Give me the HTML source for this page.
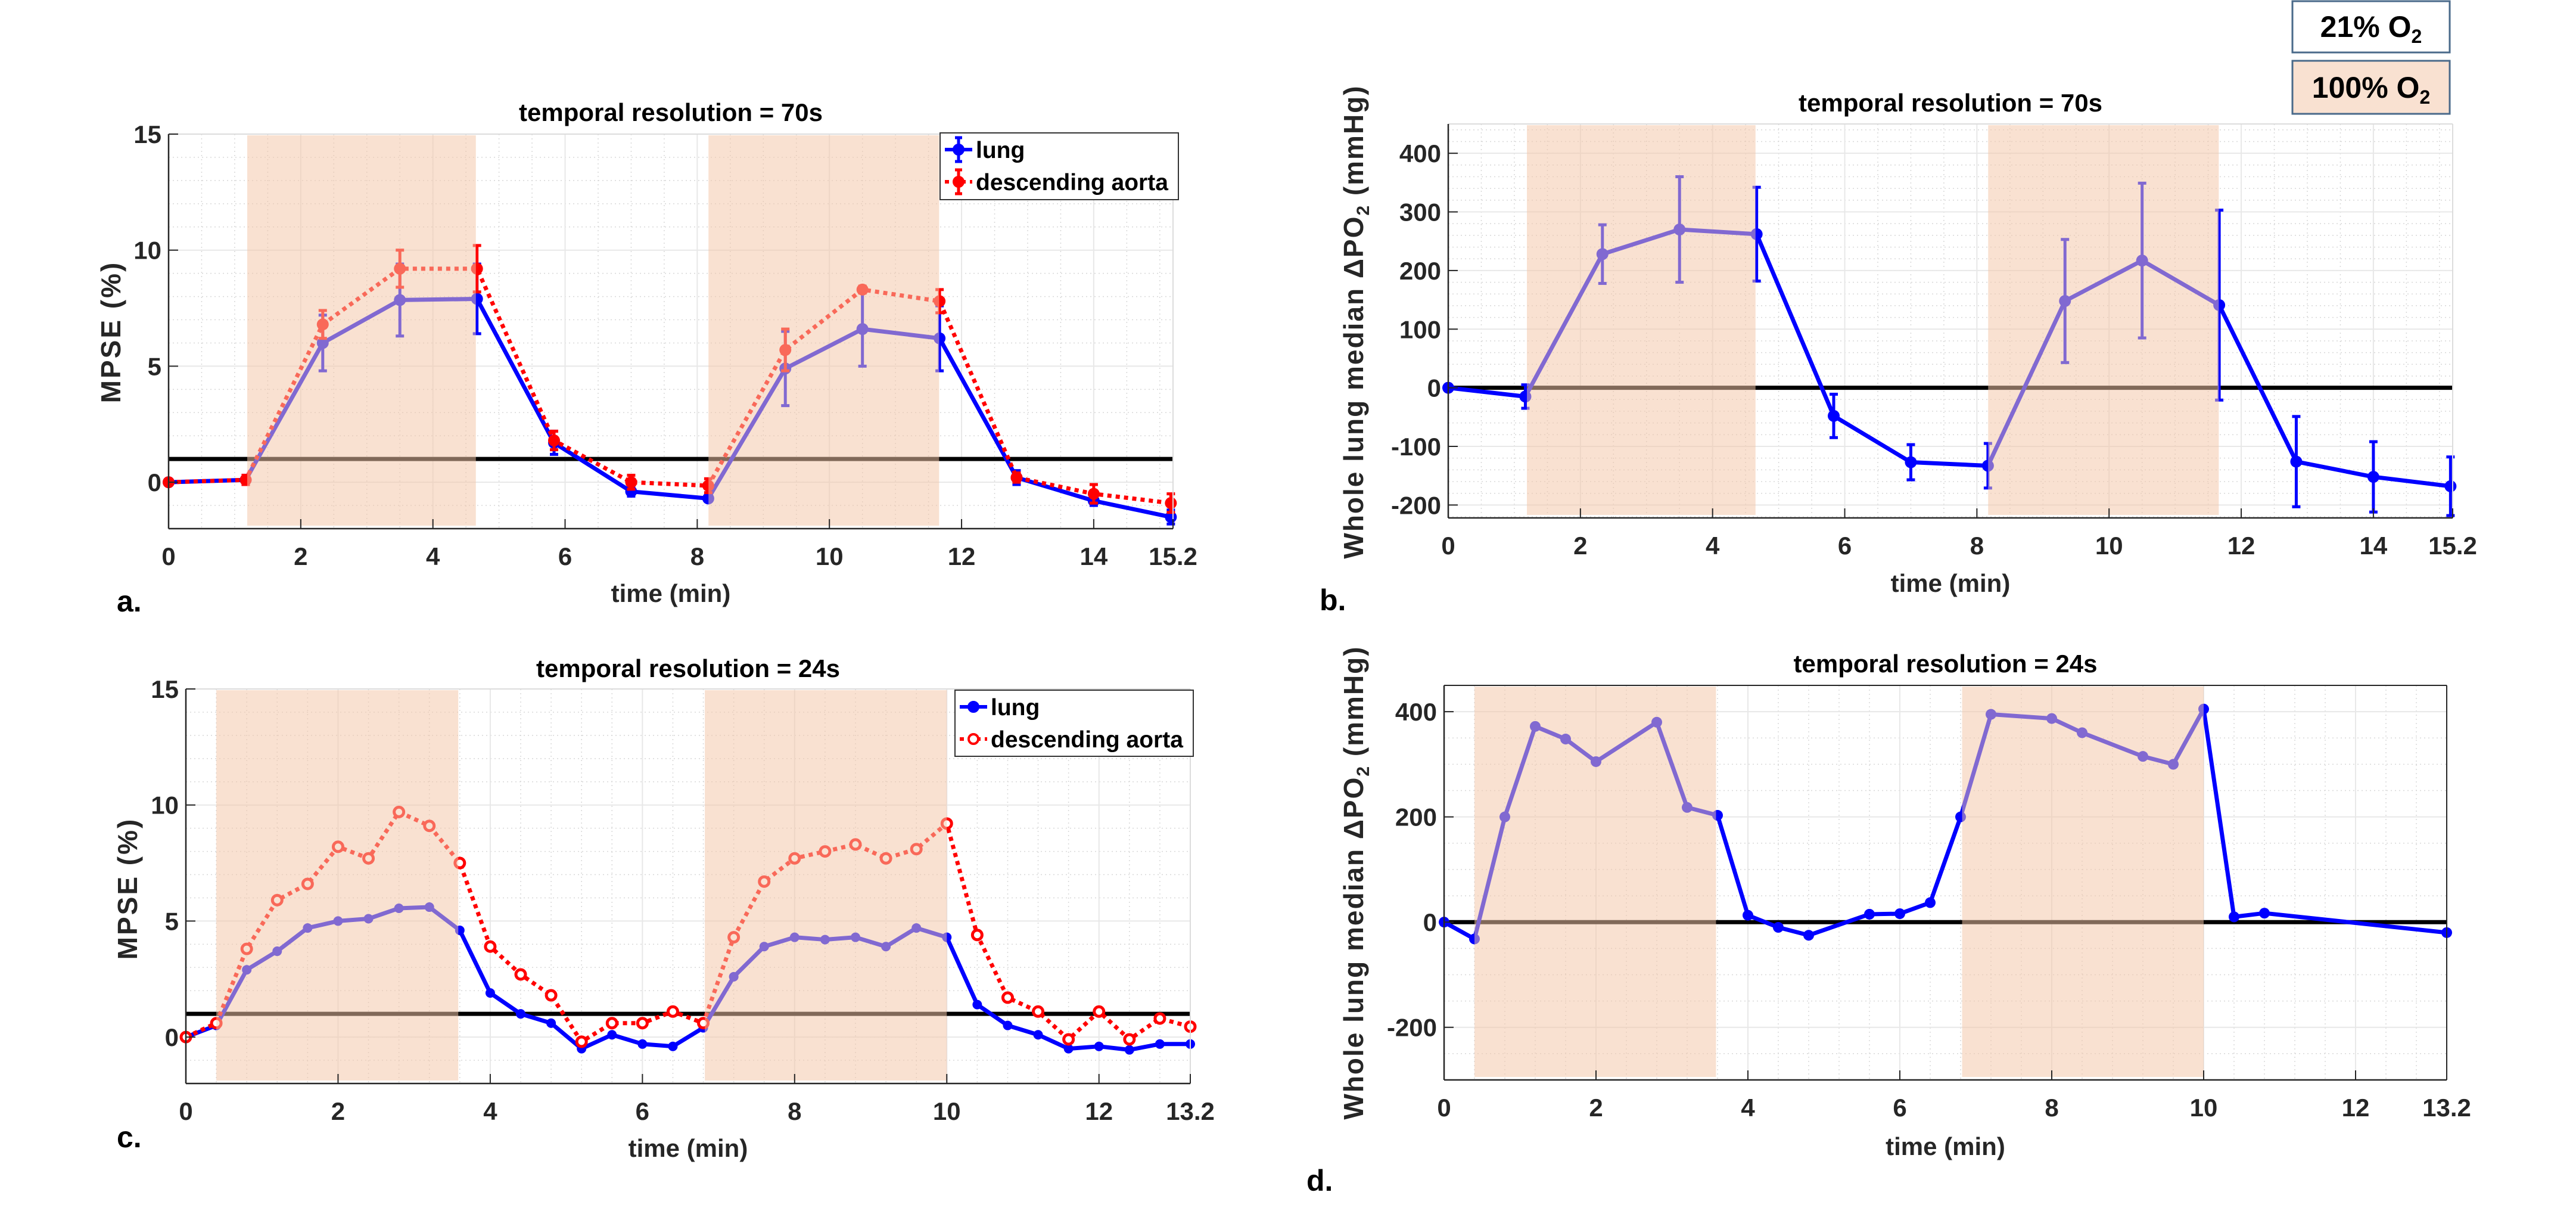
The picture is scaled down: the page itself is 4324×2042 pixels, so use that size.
<!DOCTYPE html>
<html><head><meta charset="utf-8"><style>
html,body{margin:0;padding:0;background:#fff;}
svg{display:block;font-family:"Liberation Sans",sans-serif;}
</style></head><body>
<svg id="fig" width="4324" height="2042" viewBox="0 0 4324 2042" xmlns="http://www.w3.org/2000/svg"></svg>
<script>
// ---- data ----
const aTimes=[0,1.167,2.333,3.5,4.667,5.833,7,8.167,9.333,10.5,11.667,12.833,14,15.167];
const aLung=[0,0.1,6.0,7.85,7.9,1.7,-0.4,-0.7,4.9,6.6,6.2,0.2,-0.8,-1.5];
const aLungErr=[0.05,0.2,1.2,1.55,1.5,0.5,0.2,0.1,1.6,1.6,1.4,0.3,0.2,0.3];
const aAorta=[0,0.1,6.8,9.2,9.2,1.8,0.0,-0.15,5.7,8.3,7.8,0.2,-0.5,-0.9];
const aAortaErr=[0.05,0.2,0.6,0.8,1.0,0.4,0.3,0.3,0.9,0.15,0.5,0.2,0.4,0.4];
const bVals=[0,-15,228,270,262,-48,-127,-133,148,217,141,-126,-152,-168];
const bErr=[3,20,50,90,80,37,30,38,105,132,162,77,60,50];
const cTimes=[0,0.4,0.8,1.2,1.6,2.0,2.4,2.8,3.2,3.6,4.0,4.4,4.8,5.2,5.6,6.0,6.4,6.8,7.2,7.6,8.0,8.4,8.8,9.2,9.6,10.0,10.4,10.8,11.2,11.6,12.0,12.4,12.8,13.2];
const cLung=[0,0.5,2.9,3.7,4.7,5.0,5.1,5.55,5.6,4.6,1.9,1.0,0.6,-0.5,0.1,-0.3,-0.4,0.4,2.6,3.9,4.3,4.2,4.3,3.9,4.7,4.3,1.4,0.5,0.1,-0.5,-0.4,-0.55,-0.3,-0.3];
const cAorta=[0,0.6,3.8,5.9,6.6,8.2,7.7,9.7,9.1,7.5,3.9,2.7,1.8,-0.2,0.6,0.6,1.1,0.6,4.3,6.7,7.7,8.0,8.3,7.7,8.1,9.2,4.4,1.7,1.1,-0.1,1.1,-0.1,0.8,0.45];
const dTimes=[0,0.4,0.8,1.2,1.6,2.0,2.8,3.2,3.6,4.0,4.4,4.8,5.6,6.0,6.4,6.8,7.2,8.0,8.4,9.2,9.6,10.0,10.4,10.8,13.2];
const dVals=[0,-32,200,372,348,305,380,218,203,13,-10,-25,15,16,37,200,395,387,360,315,300,405,10,17,-20];
const abTicksX=[0,2,4,6,8,10,12,14,15.2];
const cdTicksX=[0,2,4,6,8,10,12,13.2];
const acTicksY=[0,5,10,15];
const bTicksY=[-200,-100,0,100,200,300,400];
const dTicksY=[-200,0,200,400];
const abShade=[[1.19,4.65],[8.17,11.66]];
const cdShade=[[0.4,3.58],[6.82,10.0]];

const NS="http://www.w3.org/2000/svg";
const svg=document.getElementById('fig');
function mk(tag,attrs,parent,text){const e=document.createElementNS(NS,tag);for(const k in attrs)e.setAttribute(k,attrs[k]);if(text!==undefined)e.textContent=text;(parent||svg).appendChild(e);return e;}
const SH='rgb(244,199,168)',SHOP=0.53;

function panel(p){
  const g=mk('g',{});
  
  
  const X=v=>p.x0+(v-p.xmin)/(p.xmax-p.xmin)*(p.x1-p.x0);
  const Y=v=>p.y1-(v-p.ymin)/(p.ymax-p.ymin)*(p.y1-p.y0);
  for(let v=Math.ceil(p.ymin/p.ymin_step)*p.ymin_step;v<=p.ymax;v+=p.ymin_step){mk('line',{x1:p.x0,x2:p.x1,y1:Y(v),y2:Y(v),stroke:'#d8d8d8','stroke-width':1.5,'stroke-dasharray':'2 5'},g);}
  for(let v=0;v<=p.xmax;v+=p.xmin_step){mk('line',{x1:X(v),x2:X(v),y1:p.y0,y2:p.y1,stroke:'#d8d8d8','stroke-width':1.5,'stroke-dasharray':'2 5'},g);}
  p.ty.forEach(v=>mk('line',{x1:p.x0,x2:p.x1,y1:Y(v),y2:Y(v),stroke:'#e8e8e8','stroke-width':2},g));
  p.tx.forEach(v=>mk('line',{x1:X(v),x2:X(v),y1:p.y0,y2:p.y1,stroke:'#e8e8e8','stroke-width':2},g));
  const th=mk('line',{x1:p.x0,x2:p.x1,y1:Y(p.thr),y2:Y(p.thr),stroke:'#000','stroke-width':7},g);
  
  p.series.forEach(s=>{
    const sg=mk('g',{},g);
    
    
    const pts=s.t.map((t,i)=>X(t)+','+Y(s.v[i])).join(' ');
    mk('polyline',{points:pts,fill:'none',stroke:s.color,'stroke-width':7,'stroke-linejoin':'round','stroke-dasharray':s.dash||'none'},sg);
    if(s.err){s.t.forEach((t,i)=>{
      const e=s.err[i],x=X(t),ya=Y(s.v[i]+e),yb=Y(s.v[i]-e);
      mk('line',{x1:x,x2:x,y1:ya,y2:yb,stroke:s.color,'stroke-width':5},sg);
      mk('line',{x1:x-7,x2:x+7,y1:ya,y2:ya,stroke:s.color,'stroke-width':5},sg);
      mk('line',{x1:x-7,x2:x+7,y1:yb,y2:yb,stroke:s.color,'stroke-width':5},sg);
    });}
    s.t.forEach((t,i)=>{
      const c=mk('circle',{cx:X(t),cy:Y(s.v[i]),r:s.r||10,fill:s.open?'#fff':s.color,stroke:s.color,'stroke-width':s.open?5:0},sg);
      
      
    });
  });
  p.shade.forEach(sh=>{
    const r=mk('rect',{x:X(sh[0]),y:p.y0+2,width:X(sh[1])-X(sh[0]),height:p.y1-p.y0-7,fill:SH,'fill-opacity':SHOP},g);
    
    
  });
  mk('line',{x1:p.x0,x2:p.x1,y1:p.y0,y2:p.y0,stroke:p.box?'#262626':'#dcdcdc','stroke-width':2},g);
  mk('line',{x1:p.x1,x2:p.x1,y1:p.y0,y2:p.y1,stroke:p.box?'#262626':'#dcdcdc','stroke-width':2},g);
  const xa=mk('line',{x1:p.x0,x2:p.x1,y1:p.y1,y2:p.y1,stroke:'#262626','stroke-width':2.5},g);
  
  const ya=mk('line',{x1:p.x0,x2:p.x0,y1:p.y0,y2:p.y1,stroke:'#262626','stroke-width':2.5},g);
  
  p.tx.forEach(v=>{
    mk('line',{x1:X(v),x2:X(v),y1:p.y1,y2:p.y1-16,stroke:'#262626','stroke-width':2},g);
    const t=mk('text',{x:X(v),y:p.tickY,'text-anchor':'middle','font-size':42,'font-weight':'bold',fill:'#262626'},g,String(v));
    
    
  });
  p.ty.forEach(v=>{
    mk('line',{x1:p.x0,x2:p.x0+16,y1:Y(v),y2:Y(v),stroke:'#262626','stroke-width':2},g);
    const t=mk('text',{x:p.x0-12,y:Y(v)+15,'text-anchor':'end','font-size':42,'font-weight':'bold',fill:'#262626'},g,String(v));
    
    
  });
  const ti=mk('text',{x:(p.x0+p.x1)/2,y:p.titleY,'text-anchor':'middle','font-size':42,'font-weight':'bold'},g,p.title);
  
  const xl=mk('text',{x:(p.x0+p.x1)/2,y:p.xlabY,'text-anchor':'middle','font-size':42,'font-weight':'bold',fill:'#262626'},g,'time (min)');
  
  const yl=mk('text',{x:0,y:0,'text-anchor':'middle','font-size':46,'font-weight':'bold',fill:'#262626','letter-spacing':p.yls||0,transform:`translate(${p.ylx},${p.yly}) rotate(-90)`},g);
  
  if(p.ylab2){yl.textContent=p.ylab;mk('tspan',{'font-size':30,dy:10},yl,'2');mk('tspan',{dy:-10},yl,' (mmHg)');}
  else yl.textContent=p.ylab;
  const pl=mk('text',{x:p.lx,y:p.ly,'font-size':50,'font-weight':'bold'},g,p.label);
  
  if(p.legend){
    const L=p.legend;const lg=mk('g',{},g);
    
    
    mk('rect',{x:L.x,y:L.y,width:L.w,height:L.h,fill:'#fff',stroke:'#333','stroke-width':2},lg);
    [['lung','#0000ff','none'],['descending aorta','#ff0000','7 7']].forEach((e,i)=>{
      const cy=L.y+28+i*54,lx=L.x+8;
      const en=mk('g',{},lg);
      
      
      mk('line',{x1:lx,x2:lx+46,y1:cy,y2:cy,stroke:e[1],'stroke-width':6,'stroke-dasharray':e[2]},en);
      if(p.legErr){mk('line',{x1:lx+23,x2:lx+23,y1:cy-20,y2:cy+20,stroke:e[1],'stroke-width':5},en);
        mk('line',{x1:lx+17,x2:lx+29,y1:cy-20,y2:cy-20,stroke:e[1],'stroke-width':5},en);
        mk('line',{x1:lx+17,x2:lx+29,y1:cy+20,y2:cy+20,stroke:e[1],'stroke-width':5},en);}
      mk('circle',{cx:lx+23,cy:cy,r:8,fill:(i==1&&p.legOpen)?'#fff':e[1],stroke:e[1],'stroke-width':4},en);
      mk('text',{x:lx+52,y:cy+14,'font-size':39,'font-weight':'bold'},en,e[0]);
    });
  }
}

panel({name:'panel-a',x0:283,x1:1969,y0:225,y1:887,xmin:0,xmax:15.2,ymin:-2,ymax:15,xmin_step:0.5,ymin_step:1,
  tx:abTicksX,ty:acTicksY,thr:1,shade:abShade,tickY:948,titleY:203,xlabY:1010,title:'temporal resolution = 70s',
  ylab:'MPSE (%)',ylx:202,yly:557,yls:3,label:'a.',lx:196,ly:1026,legErr:true,
  legend:{x:1578,y:223,w:400,h:112},
  series:[{name:'lung-series',t:aTimes,v:aLung,err:aLungErr,color:'#0000ff'},
          {name:'aorta-series',t:aTimes,v:aAorta,err:aAortaErr,color:'#ff0000',dash:'7 7'}]});
panel({name:'panel-b',x0:2431,x1:4117,y0:208,y1:869,xmin:0,xmax:15.2,ymin:-222,ymax:450,xmin_step:0.5,ymin_step:20,
  tx:abTicksX,ty:bTicksY,thr:0,shade:abShade,tickY:930,titleY:187,xlabY:993,title:'temporal resolution = 70s',
  ylab:'Whole lung median \u0394PO',ylab2:true,ylx:2288,yly:540,yls:2,label:'b.',lx:2215,ly:1024,
  series:[{name:'lung-series',t:aTimes,v:bVals,err:bErr,color:'#0000ff'}]});
panel({name:'panel-c',x0:312,x1:1998,y0:1156,y1:1818,xmin:0,xmax:13.2,ymin:-2,ymax:15,xmin_step:0.4,ymin_step:1,
  tx:cdTicksX,ty:acTicksY,thr:1,shade:cdShade,tickY:1879,titleY:1136,xlabY:1941,title:'temporal resolution = 24s',
  ylab:'MPSE (%)',ylx:230,yly:1491,yls:3,label:'c.',lx:196,ly:1925,legOpen:true,
  legend:{x:1603,y:1158,w:400,h:111},
  series:[{name:'lung-series',t:cTimes,v:cLung,color:'#0000ff',r:8},
          {name:'aorta-series',t:cTimes,v:cAorta,color:'#ff0000',dash:'7 7',open:true,r:8}]});
panel({name:'panel-d',x0:2424,x1:4107,y0:1150,y1:1812,xmin:0,xmax:13.2,ymin:-300,ymax:450,xmin_step:0.4,ymin_step:50,box:true,
  tx:cdTicksX,ty:dTicksY,thr:0,shade:cdShade,tickY:1873,titleY:1128,xlabY:1938,title:'temporal resolution = 24s',
  ylab:'Whole lung median \u0394PO',ylab2:true,ylx:2288,yly:1481,yls:2,label:'d.',lx:2193,ly:1998,
  series:[{name:'lung-series',t:dTimes,v:dVals,color:'#0000ff',r:9}]});

const ob=mk('g',{});


mk('rect',{x:3848,y:2,width:264,height:86,fill:'#fff',stroke:'#4a6a8a','stroke-width':3},ob);
const t1=mk('text',{x:3980,y:62,'text-anchor':'middle','font-size':50,'font-weight':'bold'},ob,'21% O');
mk('tspan',{'font-size':32,dy:10},t1,'2');
mk('rect',{x:3848,y:102,width:264,height:89,fill:'#f9e1d1',stroke:'#4a6a8a','stroke-width':3},ob);
const t2=mk('text',{x:3980,y:164,'text-anchor':'middle','font-size':50,'font-weight':'bold'},ob,'100% O');
mk('tspan',{'font-size':32,dy:10},t2,'2');
</script>
</body></html>
